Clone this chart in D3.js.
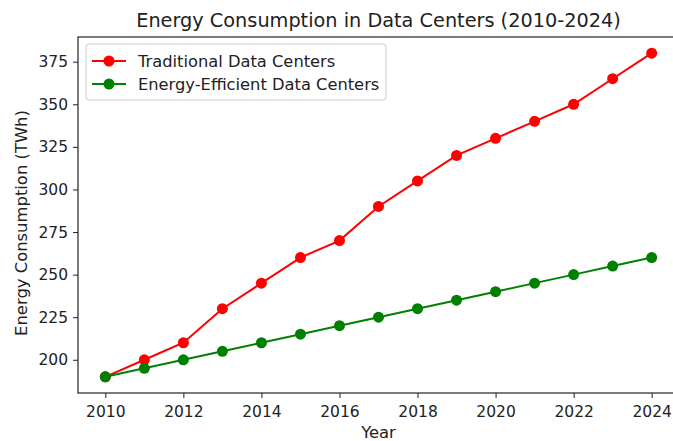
<!DOCTYPE html>
<html>
<head>
<meta charset="utf-8">
<script src="https://cdn.jsdelivr.net/npm/d3@7"></script>
<style>
  body { margin: 0; background: #fff; }
  svg text { font-family: "DejaVu Sans", sans-serif; fill: #222; }
</style>
</head>
<body>
<div class="chart"></div>
<script>
// data
const years = [2010, 2011, 2012, 2013, 2014, 2015, 2016, 2017, 2018, 2019, 2020, 2021, 2022, 2023, 2024];
const traditional = [190, 200, 210, 230, 245, 260, 270, 290, 305, 320, 330, 340, 350, 365, 380];
const efficient = [190, 195, 200, 205, 210, 215, 220, 225, 230, 235, 240, 245, 250, 255, 260];
const xTicks = [2010, 2012, 2014, 2016, 2018, 2020, 2022, 2024];
const yTicks = [200, 225, 250, 275, 300, 325, 350, 375];

const width = 673, height = 441;
const plotLeft = 78, plotRight = 679, plotTop = 37, plotBottom = 393;

var svg = d3.select(".chart")
            .append("svg")
            .attr("width", width)
            .attr("height", height);

// matplotlib style 5% margins
var x = d3.scaleLinear().domain([2010 - 0.7, 2024 + 0.7]).range([plotLeft, plotRight]);
var y = d3.scaleLinear().domain([180.5, 389.5]).range([plotBottom, plotTop]);

// axes
svg.append("g")
   .attr("transform", `translate(0,${plotBottom})`)
   .call(d3.axisBottom(x).tickValues(xTicks).tickFormat(d3.format("d")).tickSize(5).tickPadding(8))
   .call(g => g.select(".domain").remove())
   .selectAll("text").style("font-size", "15.5px");

svg.append("g")
   .attr("transform", `translate(${plotLeft},0)`)
   .call(d3.axisLeft(y).tickValues(yTicks).tickSize(5).tickPadding(5))
   .call(g => g.select(".domain").remove())
   .selectAll("text").style("font-size", "15.5px");

svg.selectAll(".tick line").attr("stroke", "#222").attr("stroke-width", 1);

// spines
svg.append("rect")
   .attr("x", plotLeft).attr("y", plotTop)
   .attr("width", plotRight - plotLeft).attr("height", plotBottom - plotTop)
   .attr("fill", "none").attr("stroke", "#222").attr("stroke-width", 1.2);

// series
const series = [
  {name: "Traditional Data Centers", values: traditional, color: "#ff0000"},
  {name: "Energy-Efficient Data Centers", values: efficient, color: "#008000"}
];

var line = d3.line().x((d, i) => x(years[i])).y(d => y(d));

series.forEach(s => {
  svg.append("path")
     .datum(s.values)
     .attr("d", line)
     .attr("fill", "none")
     .attr("stroke", s.color)
     .attr("stroke-width", 2);
  svg.selectAll(null)
     .data(s.values)
     .enter()
     .append("circle")
     .attr("cx", (d, i) => x(years[i]))
     .attr("cy", d => y(d))
     .attr("r", 5.5)
     .attr("fill", s.color);
});

// title + labels
svg.append("text")
   .attr("x", (plotLeft + plotRight) / 2).attr("y", 27)
   .attr("text-anchor", "middle")
   .style("font-size", "19.3px")
   .text("Energy Consumption in Data Centers (2010-2024)");

svg.append("text")
   .attr("x", (plotLeft + plotRight) / 2).attr("y", 438)
   .attr("text-anchor", "middle")
   .style("font-size", "16.4px")
   .text("Year");

svg.append("text")
   .attr("transform", `translate(27,${(plotTop + plotBottom) / 2 + 8}) rotate(-90)`)
   .attr("text-anchor", "middle")
   .style("font-size", "16.4px")
   .text("Energy Consumption (TWh)");

// legend
var legend = svg.append("g");
legend.append("rect")
   .attr("x", 86).attr("y", 44).attr("width", 300).attr("height", 56)
   .attr("rx", 3)
   .attr("fill", "#fff").attr("fill-opacity", 0.8)
   .attr("stroke", "#ccc");

series.forEach((s, i) => {
  const ly = 61 + i * 23;
  legend.append("line")
     .attr("x1", 92).attr("x2", 126).attr("y1", ly).attr("y2", ly)
     .attr("stroke", s.color).attr("stroke-width", 2);
  legend.append("circle")
     .attr("cx", 109).attr("cy", ly).attr("r", 5.5).attr("fill", s.color);
  legend.append("text")
     .attr("x", 138).attr("y", ly + 6)
     .style("font-size", "16.3px")
     .text(s.name);
});
</script>
</body>
</html>
